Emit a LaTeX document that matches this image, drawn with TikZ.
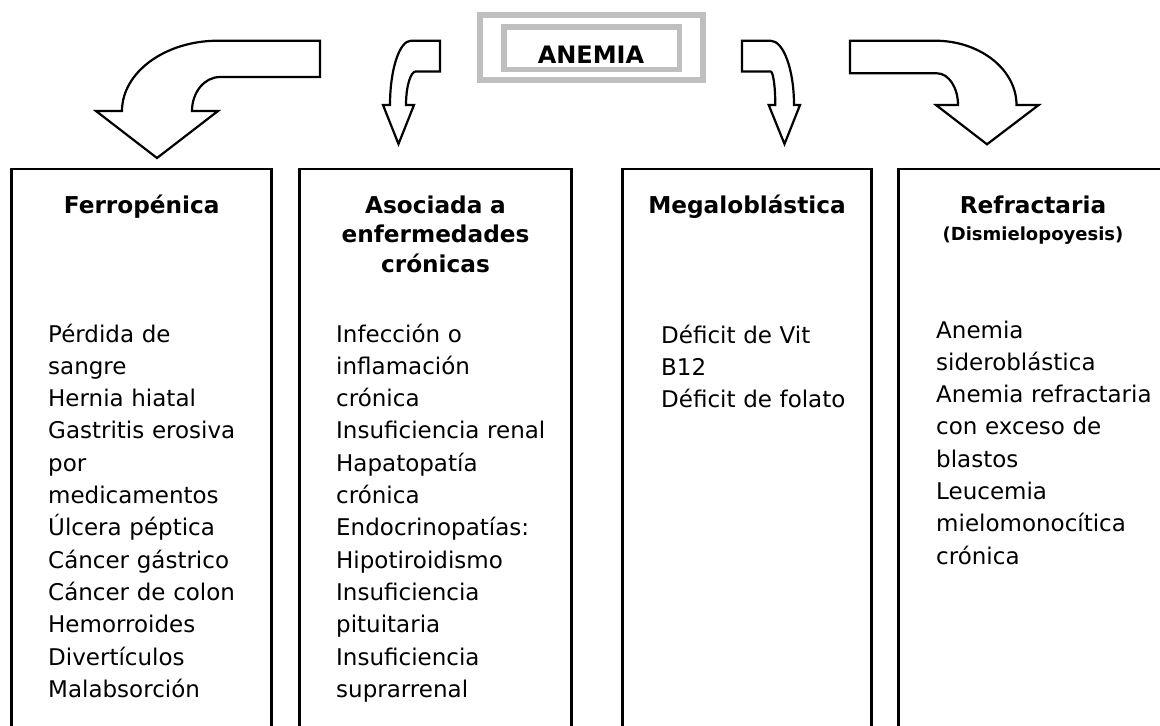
\documentclass[tikz,border=0pt]{standalone}
\usepackage{fontspec}
\setmainfont{DejaVu Sans}
\begin{document}
\begin{tikzpicture}[x=1pt,y=-1pt,
  blockarrow/.style={draw=black,line width=2.2pt,fill=white,line join=miter},
  colbox/.style={draw=black,line width=2.6pt},
  gbox/.style={draw=black!25,line width=5.5pt},
  head/.style={font=\fontsize{23.2}{29.5}\selectfont\bfseries,inner sep=0pt,anchor=base,align=center,text width=260pt},
  sub/.style={font=\fontsize{18}{22}\selectfont\bfseries,inner sep=0pt,anchor=base},
  body/.style={font=\fontsize{23}{32.3}\selectfont,inner sep=0pt,align=left,anchor=base west,text width=240pt}]
\useasboundingbox (0,0) rectangle (1160,726);
\clip (0,0) rectangle (1160,726);
% title boxes
\draw[gbox] (480,15) rectangle (703,80);
\draw[gbox] (503.75,26.75) rectangle (679.25,69.25);
\node[font=\fontsize{24}{28}\selectfont\bfseries,inner sep=0pt,anchor=base] (title) at (591,63) {ANEMIA};
% block arrows
\draw[blockarrow] (320,40.7) -- (218,40.7) .. controls (165,40.7) and (122,72.4) .. (122,111)
  -- (96,111) -- (157,158) -- (218,111) -- (192,111)
  .. controls (192,92.2) and (204.5,77) .. (220,77) -- (320,77) -- cycle;
\draw[blockarrow] (440,40.7) -- (411,40.7) .. controls (399.4,40.7) and (390,69.5) .. (390,105)
  -- (383,105) -- (398.5,144) -- (414,105) -- (406,105)
  .. controls (406,86.5) and (410.5,71.4) .. (416,71.4) -- (440,71.4) -- cycle;
\draw[blockarrow] (742,40.7) -- (770.5,40.7) .. controls (783.5,40.7) and (794,69.5) .. (794,105)
  -- (800,105) -- (784.5,144) -- (768.7,105) -- (775.3,105)
  .. controls (775.3,86.5) and (773.2,71.4) .. (770.5,71.4) -- (742,71.4) -- cycle;
\draw[blockarrow] (850,40.7) -- (935,40.7) .. controls (980,40.7) and (1016.5,69.5) .. (1016.5,105)
  -- (1038.7,105) -- (987,144.3) -- (936,105) -- (958,105)
  .. controls (958,87.5) and (948.6,73.3) .. (937,73.3) -- (850,73.3) -- cycle;
% column boxes (open at the bottom, running off the page)
\draw[colbox] (11.7,760) -- (11.7,169) -- (271.7,169) -- (271.7,760);
\draw[colbox] (299.3,760) -- (299.3,169) -- (571.7,169) -- (571.7,760);
\draw[colbox] (622.3,760) -- (622.3,169) -- (871.7,169) -- (871.7,760);
\draw[colbox] (898.3,760) -- (898.3,169) -- (1190,169) -- (1190,760);
% headings
\node[head] (h1) at (141.7,213) {Ferropénica};
\node[head] (h2) at (435.5,213) {Asociada a\\enfermedades\\crónicas};
\node[head] (h3) at (747,213) {Megaloblástica};
\node[head] (h4) at (1033,213) {Refractaria};
\node[sub] (h4s) at (1033,240) {(Dismielopoyesis)};
% lists
\node[body] (b1) at (48,342) {Pérdida de\\sangre\\Hernia hiatal\\Gastritis erosiva\\por\\medicamentos\\Úlcera péptica\\Cáncer gástrico\\Cáncer de colon\\Hemorroides\\Divertículos\\Malabsorción};
\node[body] (b2) at (336,342) {Infección o\\inflamación\\crónica\\Insuficiencia renal\\Hapatopatía\\crónica\\Endocrinopatías:\\Hipotiroidismo\\Insuficiencia\\pituitaria\\Insuficiencia\\suprarrenal};
\node[body] (b3) at (661,343) {Déficit de Vit\\B12\\Déficit de folato};
\node[body] (b4) at (936,338) {Anemia\\sideroblástica\\Anemia refractaria\\con exceso de\\blastos\\Leucemia\\mielomonocítica\\crónica};
\end{tikzpicture}
\end{document}
